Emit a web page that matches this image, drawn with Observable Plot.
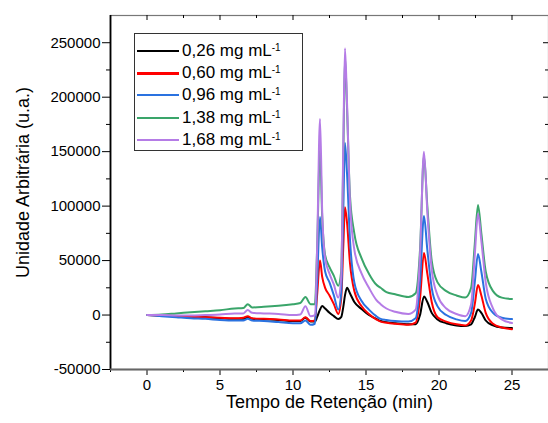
<!DOCTYPE html>
<html>
<head>
<meta charset="utf-8">
<script src="https://cdn.jsdelivr.net/npm/d3@7"></script>
<script src="https://cdn.jsdelivr.net/npm/@observablehq/plot@0.6"></script>
<style>
  html, body { margin: 0; padding: 0; background: white; }
  #wrap { position: relative; width: 548px; height: 423px; font-family: "Liberation Sans", Arial, sans-serif; }
  #legend { position: absolute; left: 134px; top: 33px; width: 169px; height: 118px; border: 1px solid #333; background: white; box-sizing: border-box; }
  .row { position: absolute; left: 0; height: 22px; width: 100%; }
  .sw { position: absolute; left: 2px; width: 42px; top: 10px; }
  .lb { position: absolute; left: 47px; top: 0; line-height: 22px; font-size: 17px; color: #000; white-space: nowrap; }
  .lb sup { font-size: 10px; vertical-align: top; position: relative; top: -3px; }
</style>
</head>
<body>
<div id="wrap"></div>
<script>
// Retention time (min)
const time = [0, 1, 2, 3, 4, 5, 6, 6.6, 6.9, 7.2, 8, 9, 10, 10.5, 10.85, 11.2, 11.5, 11.65, 11.85, 12.0,
  12.2, 12.5, 12.8, 13.1, 13.3, 13.45, 13.56, 13.7, 13.9, 14.2, 14.7, 15.2, 15.7, 16.0, 16.4, 17.0,
  17.9, 18.4, 18.7, 18.97, 19.2, 19.5, 19.9, 20.5, 21.2, 21.8, 22.2, 22.45, 22.67, 22.9, 23.2, 23.7, 24.3, 25];

const seriesNames = ["0,26 mg mL", "0,60 mg mL", "0,96 mg mL", "1,38 mg mL", "1,68 mg mL"];
const seriesColors = ["#000000", "#ff0000", "#2a72e0", "#3aa56a", "#b57ce6"];

const c026 = [0, -500, -1000, -1500, -2000, -3000, -3500, -3500, -2500, -3500, -4000, -4500, -5500, -5500, -2500, -6000, -6000, -2000, 5000, 8300,
  6000, 2000, -1000, -3700, -2000, 8000, 18000, 25000, 20000, 12000, 5500, 0, -3500, -5500, -6500, -7500,
  -8500, -8500, 0, 17000, 12000, 2000, -4000, -7500, -9500, -10000, -8500, -2000, 5000, 2000, -5000, -9500, -11500, -12000];

const c060 = [0, -500, -1000, -1500, -2000, -2500, -3000, -2500, -1000, -3000, -3500, -4000, -5000, -5000, -2000, -5500, -5000, 18000, 50000, 35000,
  25000, 18000, 10000, 1000, 15000, 65000, 99000, 85000, 48000, 22000, 8000, 1000, -4000, -6000, -7000, -8000,
  -9000, -7000, 15000, 57000, 38000, 12000, -2000, -6000, -8500, -9500, -5000, 10000, 27500, 18000, 2000, -8000, -11500, -13000];

const c096 = [0, -1000, -2000, -3000, -3500, -4500, -5000, -5000, -3500, -5000, -5500, -6500, -7500, -7500, -5000, -9000, -8000, 30000, 90000, 62000,
  40000, 30000, 18000, 5000, 20000, 100000, 158000, 130000, 70000, 30000, 12800, 5000, -1000, -3500, -4500, -5500,
  -6000, -3000, 30000, 91000, 60000, 25000, 8000, 0, -4000, -5500, 2000, 30000, 56000, 40000, 15000, 2000, -2500, -3700];

const c138 = [0, 500, 1500, 2500, 3500, 4500, 6000, 6500, 10000, 7000, 7500, 8500, 10000, 11000, 16500, 10000, 10000, 60000, 152000, 90000,
  55000, 44000, 36000, 27000, 40000, 150000, 237000, 190000, 110000, 75000, 52000, 38000, 28000, 25000, 21000, 19000,
  16500, 20000, 60000, 146000, 100000, 50000, 30000, 22000, 18000, 16000, 25000, 65000, 101000, 75000, 40000, 22000, 16000, 14700];

const c168 = [0, 0, -500, -500, 0, 500, 1500, 1500, 4600, 2000, 1500, 1000, 0, 500, 8000, -1000, 0, 60000, 180000, 95000,
  52000, 38000, 28000, 16000, 35000, 160000, 245000, 195000, 105000, 60000, 38000, 25000, 14000, 10000, 6000, 3000,
  1000, 5000, 55000, 150000, 95000, 42000, 18000, 6000, 1000, -1000, 10000, 55000, 93000, 68000, 30000, 6000, -4000, -7300];

const yMajor = [-50000, 0, 50000, 100000, 150000, 200000, 250000];
const yMinor = [-25000, 25000, 75000, 125000, 175000, 225000];
const xMajor = [0, 5, 10, 15, 20, 25];
const xMinor = [-2.5, 2.5, 7.5, 12.5, 17.5, 22.5, 27.5];

const xTitle = "Tempo de Retenção (min)";
const yTitle = "Unidade Arbitrária (u.a.)";

const allSeries = [c026, c060, c096, c138, c168];
const rows = [];
allSeries.forEach((vals, si) => {
  vals.forEach((v, i) => rows.push({t: time[i], v, s: seriesNames[si]}));
});

const blank = () => "";
const chart = Plot.plot({
  width: 548,
  height: 423,
  marginLeft: 110,
  marginRight: 0,
  marginTop: 15,
  marginBottom: 54,
  style: {fontFamily: '"Liberation Sans", Arial, sans-serif', fontSize: "15px", color: "#000", background: "white"},
  x: {domain: [-2.5, 27.5]},
  y: {domain: [-50000, 275000]},
  color: {domain: seriesNames, range: seriesColors},
  marks: [
    Plot.frame({stroke: "#777", strokeWidth: 1.2}),
    Plot.axisY(yMajor, {anchor: "left", tickSize: 8, tickPadding: 2, fontSize: 15, label: null, tickFormat: d => String(d)}),
    Plot.axisY(yMinor, {anchor: "left", tickSize: 4, label: null, tickFormat: blank}),
    Plot.axisY(yMajor, {anchor: "left", frameAnchor: "right", tickSize: 5, label: null, tickFormat: blank}),
    Plot.axisY(yMinor, {anchor: "left", frameAnchor: "right", tickSize: 3, label: null, tickFormat: blank}),
    Plot.axisX(xMajor, {anchor: "bottom", tickSize: 6, tickPadding: 4, fontSize: 15, label: null, tickFormat: d => String(d)}),
    Plot.axisX(xMinor, {anchor: "bottom", tickSize: 3, label: null, tickFormat: blank}),
    Plot.axisX(xMajor, {anchor: "bottom", frameAnchor: "top", tickSize: 5, label: null, tickFormat: blank}),
    Plot.axisX(xMinor, {anchor: "bottom", frameAnchor: "top", tickSize: 3, label: null, tickFormat: blank}),
    Plot.ruleX([-2.5], {stroke: "#000", strokeWidth: 1.8}),
    Plot.ruleY([-50000], {stroke: "#666", strokeWidth: 1.8}),
    Plot.line(rows, {x: "t", y: "v", z: "s", stroke: "s", strokeWidth: 2, curve: "monotone-x"}),
    Plot.text([xTitle], {frameAnchor: "bottom", dy: 33, fontSize: 18, textAnchor: "middle", lineAnchor: "middle"}),
    Plot.text([yTitle], {frameAnchor: "left", dx: -87, dy: -10, rotate: -90, fontSize: 18, textAnchor: "middle", lineAnchor: "middle"})
  ]
});

const wrap = document.getElementById("wrap");
wrap.appendChild(chart);

const legend = document.createElement("div");
legend.id = "legend";
const rowTops = [6, 28, 50, 73, 95];
const swatchHeights = [2, 3, 2, 2, 2];
seriesNames.forEach((name, i) => {
  const r = document.createElement("div");
  r.className = "row";
  r.style.top = rowTops[i] + "px";
  const sw = document.createElement("div");
  sw.className = "sw";
  sw.style.background = seriesColors[i];
  sw.style.height = swatchHeights[i] + "px";
  const lb = document.createElement("div");
  lb.className = "lb";
  lb.innerHTML = name + "<sup>-1</sup>";
  r.appendChild(sw);
  r.appendChild(lb);
  legend.appendChild(r);
});
wrap.appendChild(legend);
</script>
</body>
</html>
